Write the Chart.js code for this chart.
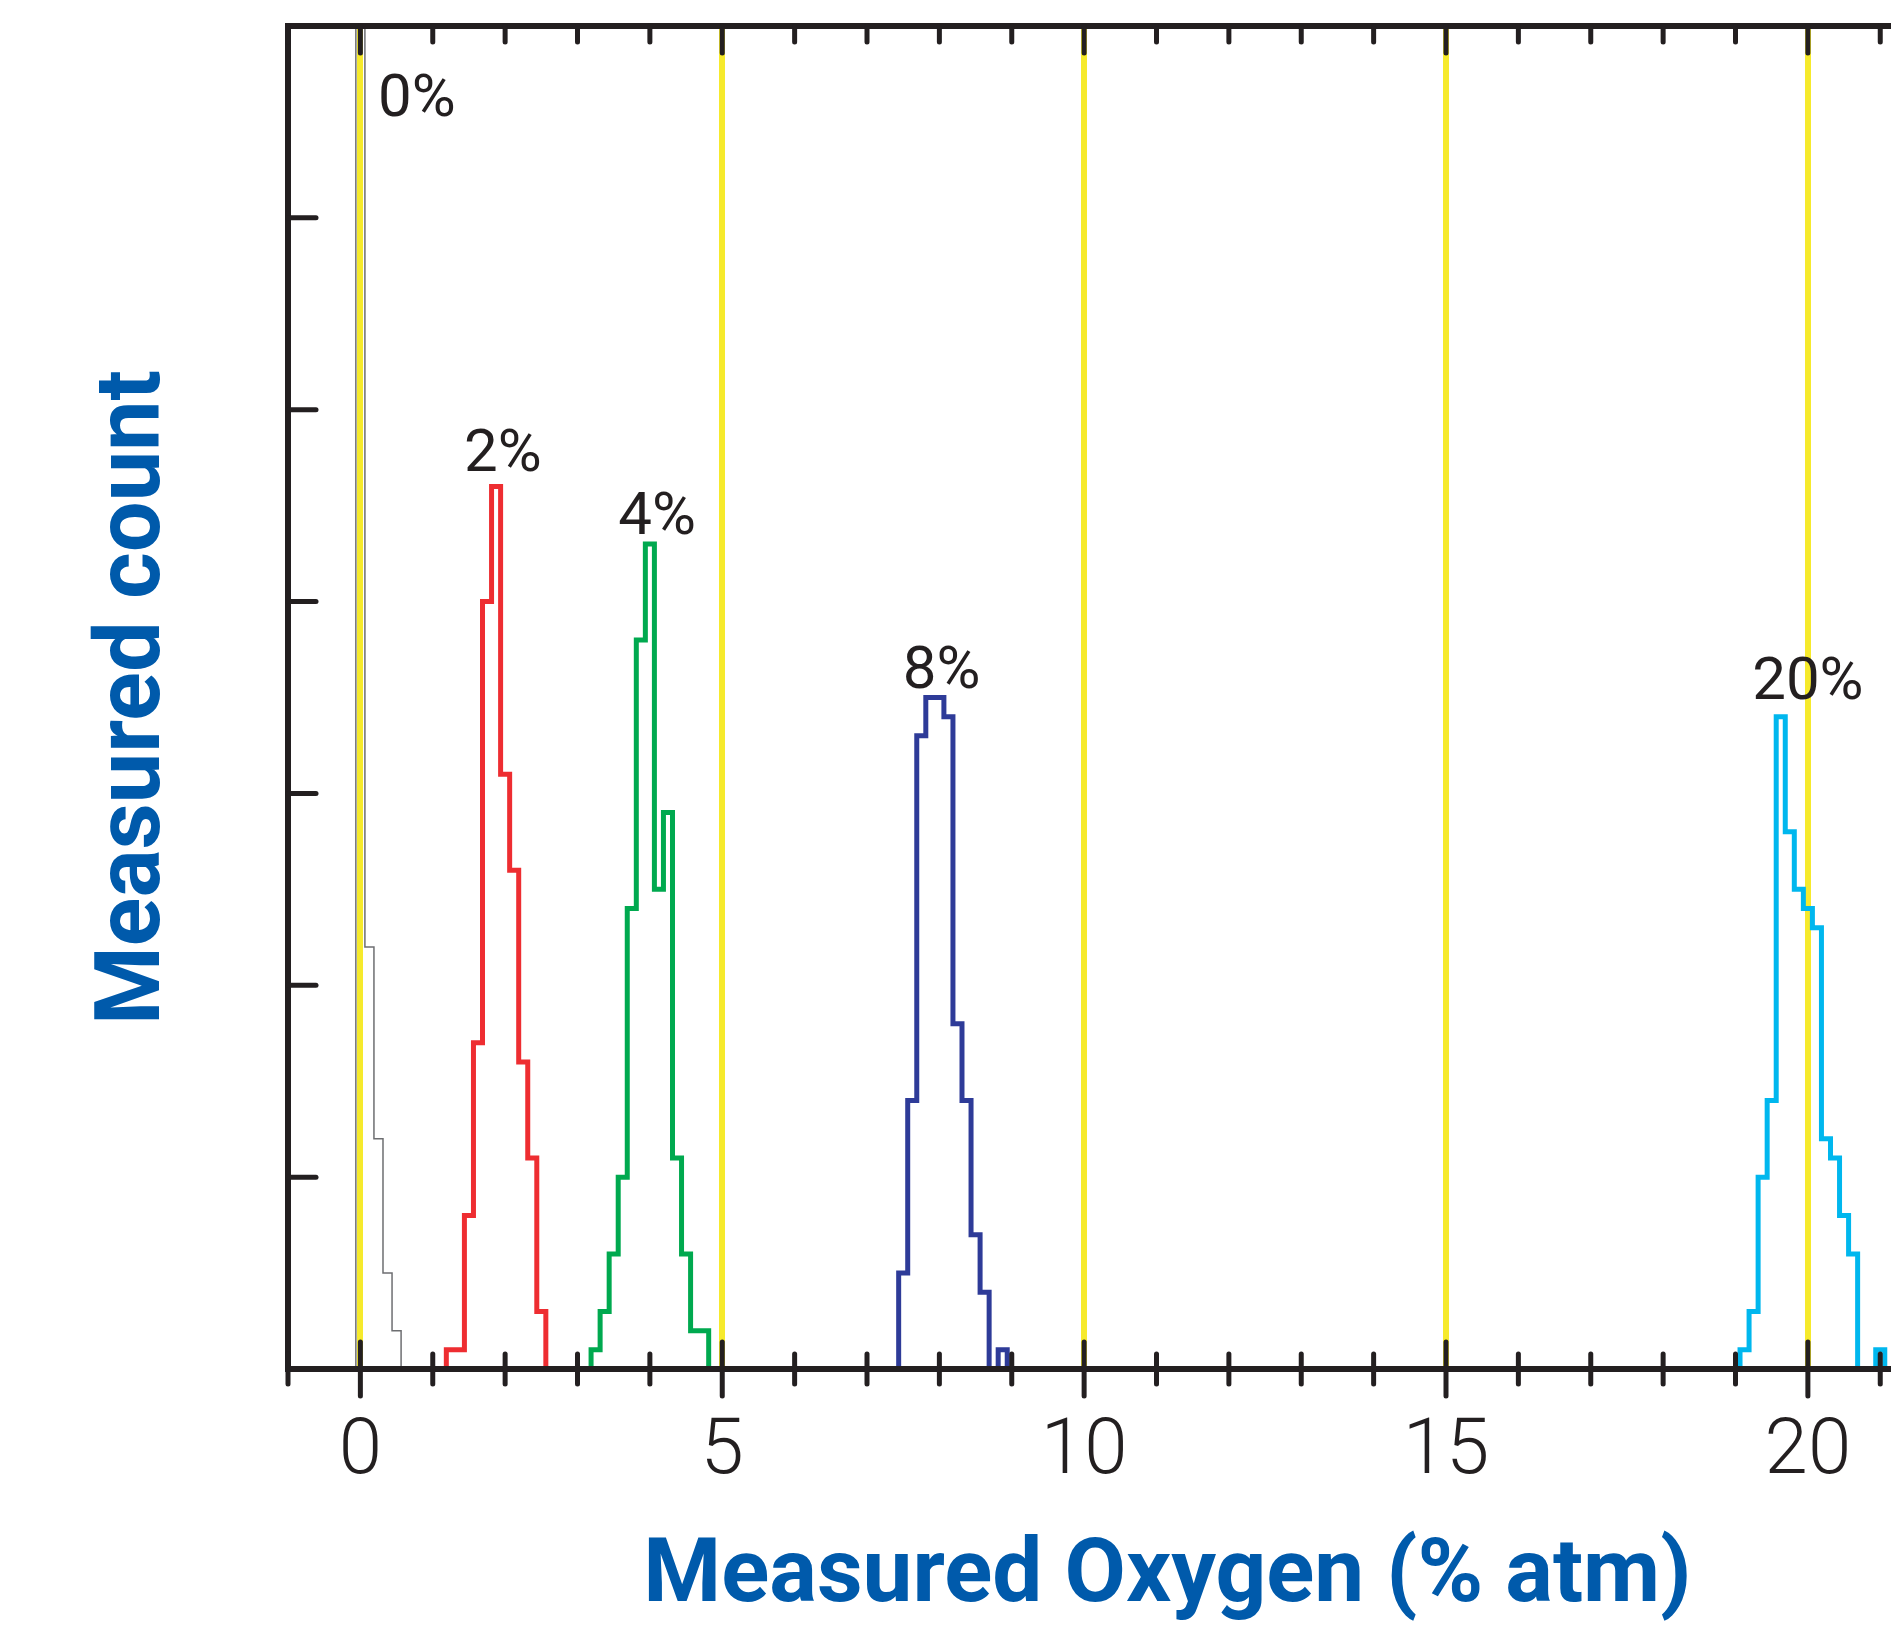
<!DOCTYPE html>
<html><head><meta charset="utf-8">
<script src="https://cdn.jsdelivr.net/npm/chart.js@4/dist/chart.umd.min.js"></script>
<style>
html,body{margin:0;padding:0;overflow:hidden;background:#fff;width:1891px;height:1632px}
#wrap{position:absolute;left:0;top:0;width:2063px;height:1632px}
canvas{display:block}
</style></head>
<body><div id="wrap"><canvas id="c" width="2063" height="1632" style="width:2063px;height:1632px"></canvas></div>
<script>
// ---- data (histograms, bin width 1/8 % O2) ----
const binWidth = 0.125;
const seriesNames = ['0%', '2%', '4%', '8%', '20%'];
const firstBinCenters = [0, 1.25, 3.25, 7.5, 19.125];
const counts0 = [9.5, 2.2, 1.2, 0.5, 0.2];
const counts2 = [0.1, 0.1, 0.8, 1.7, 4.0, 4.6, 3.1, 2.6, 1.6, 1.1, 0.3];
const counts4 = [0.1, 0.3, 0.6, 1.0, 2.4, 3.8, 4.3, 2.5, 2.9, 1.1, 0.6, 0.2, 0.2];
const counts8 = [0.5, 1.4, 3.3, 3.5, 3.5, 3.4, 1.8, 1.4, 0.7, 0.4, 0, 0.1];
const counts20 = [0.1, 0.3, 1.0, 1.4, 3.4, 2.8, 2.5, 2.4, 2.3, 1.2, 1.1, 0.8, 0.6, 0, 0, 0.1];
const xTickLabels = [0, 5, 10, 15, 20];
// label anchors in data units (x centre, y baseline)
const peakLabelX = [0.78, 1.97, 4.10, 8.03, 20.0];
const peakLabelY = [6.53, 4.68, 4.35, 3.55, 3.49];

const allCounts = [counts0, counts2, counts4, counts8, counts20];
const colors = ['#6d6e71', '#ee2d31', '#00a94f', '#2e3b98', '#00b7ee'];
const widths = [1.5, 5, 5, 5, 5];
const YELLOW = '#f6ea2c';
const INK = '#231f20';
const BLUE = '#005aab';

function outline(start, counts) {
  const pts = [];
  const first = start - binWidth / 2;
  pts.push({x: first, y: 0});
  counts.forEach((c, i) => {
    const l = first + i * binWidth;
    pts.push({x: l, y: c});
    pts.push({x: l + binWidth, y: c});
  });
  pts.push({x: first + counts.length * binWidth, y: 0});
  return pts;
}

const datasets = allCounts.map((c, i) => ({
  label: seriesNames[i],
  data: outline(firstBinCenters[i], c),
  borderColor: colors[i],
  borderWidth: widths[i],
  pointRadius: 0,
  fill: false,
  tension: 0,
  borderJoinStyle: 'miter'
}));

const decor = {
  id: 'decor',
  afterDraw(chart) {
    const {ctx, chartArea: a, scales: {x, y}} = chart;
    ctx.save();
    ctx.strokeStyle = INK;
    ctx.lineWidth = 6;
    ctx.lineCap = 'butt';
    ctx.beginPath(); ctx.moveTo(a.left - 3, a.top); ctx.lineTo(a.right, a.top); ctx.stroke();
    ctx.lineWidth = 5;
    ctx.lineCap = 'round';
    x.ticks.forEach(t => {
      const px = x.getPixelForValue(t.value);
      const major = xTickLabels.includes(t.value);
      const lb = major ? 27 : 15;
      ctx.beginPath(); ctx.moveTo(px, a.bottom - lb); ctx.lineTo(px, a.bottom + lb); ctx.stroke();
      const lt = major ? 27 : 16;
      ctx.beginPath(); ctx.moveTo(px, a.top); ctx.lineTo(px, a.top + lt); ctx.stroke();
    });
    y.ticks.forEach(t => {
      if (t.value <= 0 || t.value >= 7) return;
      const py = y.getPixelForValue(t.value);
      ctx.beginPath(); ctx.moveTo(a.left, py); ctx.lineTo(a.left + 28, py); ctx.stroke();
    });
    ctx.fillStyle = INK;
    ctx.font = '400 60px Roboto';
    ctx.textAlign = 'center';
    ctx.textBaseline = 'alphabetic';
    seriesNames.forEach((n, i) => {
      ctx.fillText(n, x.getPixelForValue(peakLabelX[i]), y.getPixelForValue(peakLabelY[i]));
    });
    ctx.restore();
  }
};

new Chart(document.getElementById('c').getContext('2d'), {
  type: 'line',
  data: {datasets},
  options: {
    responsive: false,
    animation: false,
    events: [],
    layout: {padding: {top: 26, right: 0, bottom: 0, left: 0}},
    plugins: {legend: {display: false}, tooltip: {enabled: false}},
    scales: {
      x: {
        type: 'linear', min: -1, max: 23.3,
        afterFit(s) { s.height = 263; },
        ticks: {
          stepSize: 1, includeBounds: false, autoSkip: false, maxRotation: 0, padding: 38,
          color: INK, font: {family: 'Roboto', size: 78, weight: '300'},
          callback(v) { return xTickLabels.includes(v) ? String(v) : ''; }
        },
        grid: {
          drawTicks: false, lineWidth: 6,
          color(c) { return c.tick && xTickLabels.includes(c.tick.value) ? YELLOW : 'rgba(0,0,0,0)'; }
        },
        border: {display: true, color: INK, width: 6, z: 1},
        title: {display: true, text: 'Measured Oxygen (% atm)', color: BLUE,
          font: {family: 'Roboto', size: 89, weight: 'bold'}, padding: {top: 0, bottom: 0}}
      },
      y: {
        min: 0, max: 7,
        afterFit(s) { s.width = 288; },
        ticks: {display: false, stepSize: 1},
        grid: {display: false, drawTicks: false},
        border: {display: true, color: INK, width: 6, z: 1},
        title: {display: true, text: 'Measured count', color: BLUE,
          font: {family: 'Roboto', size: 90, weight: 'bold'}, padding: {top: 82, bottom: 0}}
      }
    }
  },
  plugins: [decor]
});
</script>
</body></html>
